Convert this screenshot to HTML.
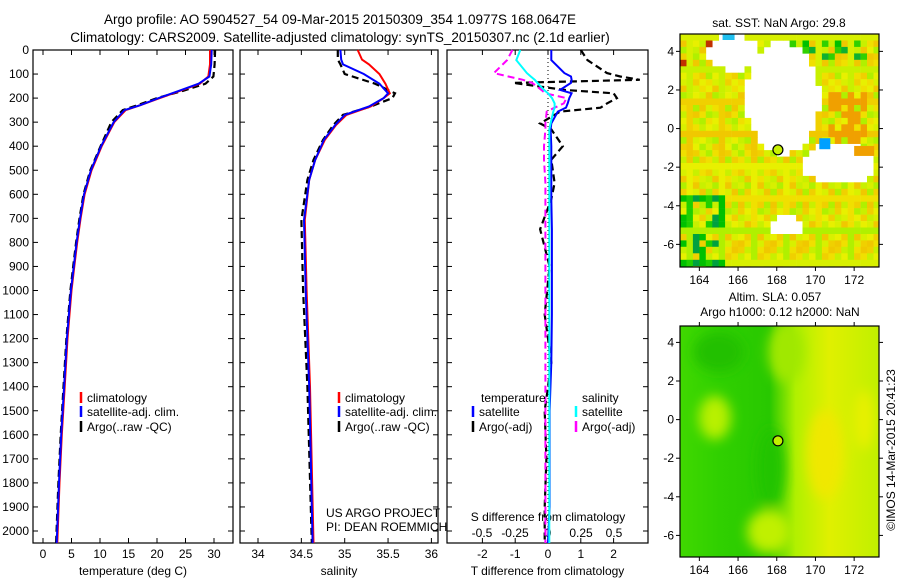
<!DOCTYPE html>
<html><head><meta charset="utf-8"><style>
body{margin:0;background:#fff;font-family:"Liberation Sans",sans-serif}
svg text{font-family:"Liberation Sans",sans-serif;fill:#000}
</style></head><body>
<svg id="c" width="900" height="580" xmlns="http://www.w3.org/2000/svg">
<text x="340" y="24" font-size="13.5" text-anchor="middle">Argo profile: AO 5904527_54 09-Mar-2015 20150309_354 1.0977S 168.0647E</text>
<text x="340" y="42" font-size="13.5" text-anchor="middle">Climatology: CARS2009. Satellite-adjusted climatology: synTS_20150307.nc (2.1d earlier)</text>
<g id="maps"></g>
<g id="plots"></g>
</svg>
<script>
// ---- data ----
const depthTicks=[0,100,200,300,400,500,600,700,800,900,1000,1100,1200,1300,1400,1500,1600,1700,1800,1900,2000];
const tTicks=[0,5,10,15,20,25,30];
const sTicks=[34,34.5,35,35.5,36];
const dTTicks=[-2,-1,0,1,2];
const dSTicks=[-0.5,-0.25,0,0.25,0.5];
const dSLabels=["-0.5","-0.25","0","0.25","0.5"];
const tDepth=[0,60,110,140,170,200,230,250,300,400,500,600,700,800,900,1000,1200,1400,1600,1800,2050];
const tClim=[29.3,29.3,29.0,27.5,24,20.5,17,14.5,12.5,10.3,8.5,7.3,6.6,6.0,5.5,5.0,4.3,3.8,3.3,2.9,2.5];
const tSat=[29.6,29.5,29.2,27.3,23.8,20.3,17,14.3,12.4,10.2,8.4,7.2,6.5,5.9,5.4,4.9,4.2,3.7,3.2,2.8,2.4];
const tArgo=[30.2,30.1,29.9,28.5,24.5,20,16.5,14,12,10.1,8.3,7.1,6.4,5.8,5.3,4.8,4.1,3.6,3.1,2.7,2.3];
const sDepth=[0,40,60,100,140,180,200,235,270,312,374,457,540,707,1000,1400,2050];
const sClim=[35.15,35.2,35.28,35.4,35.47,35.52,35.45,35.3,35.02,34.9,34.77,34.66,34.59,34.54,34.56,34.6,34.64];
const sSat=[34.95,34.96,34.98,35.22,35.4,35.5,35.45,35.28,35.0,34.89,34.76,34.66,34.59,34.53,34.55,34.59,34.63];
const sArgo=[34.92,34.92,34.95,35.0,35.35,35.58,35.55,35.3,34.98,34.87,34.75,34.64,34.57,34.5,34.52,34.57,34.62];
const dDepth=[0,42,96,110,124,137,166,180,200,222,240,256,305,330,400,456,553,620,745,900,1100,1300,1500,1700,1900,2050];
const dTSat=[0.1,0.1,0.5,0.7,0.72,0.7,0.37,0.72,0.65,0.6,0.55,0.3,0.1,0.08,0.1,0.1,0.1,0.1,0.12,0.12,0.12,0.1,0.05,0.05,0.05,0.0];
const dTArgo=[1.0,1.2,1.8,2.2,2.8,-1.06,0.5,2.0,2.1,1.8,1.6,0.37,-0.24,0.1,0.45,0.1,0.2,0.1,-0.24,0.05,-0.1,0.1,-0.1,-0.05,-0.1,-0.1];
const dSSat=[-0.21,-0.24,-0.16,-0.13,-0.1,-0.08,-0.03,0,0.03,0.05,0.05,0.04,0.02,0.01,0.01,0.01,0.01,0.01,0.01,0.01,0.01,0.01,0.01,0.01,0.01,0.01];
const dSArgo=[-0.27,-0.31,-0.41,-0.3,-0.19,-0.12,-0.05,-0.02,0.14,0.12,0.05,-0.01,-0.02,-0.02,-0.03,-0.03,-0.02,-0.02,-0.02,-0.02,-0.02,-0.02,-0.02,-0.02,-0.02,-0.02];
const lonTicks=[164,166,168,170,172];
const latTicks=[4,2,0,-2,-4,-6];
const argoLon=168.06, argoLat=-1.1;

const NS="http://www.w3.org/2000/svg";
const P=document.getElementById('plots'), M=document.getElementById('maps');
function el(t,a,p){const e=document.createElementNS(NS,t);for(const k in a)e.setAttribute(k,a[k]);(p||P).appendChild(e);return e;}
function txt(x,y,s,sz,anc,p){const e=el('text',{x:x,y:y,'font-size':sz||12,'text-anchor':anc||'middle'},p);e.textContent=s;return e;}
const top0=50,bot=543;
const yD=d=>top0+d*0.2405;

function panel(name,x0,x1,xf,ticks,labels,xlabel,showDepth){
  const g=el('g',{});
  
  
  const r=el('rect',{x:x0,y:top0,width:x1-x0,height:bot-top0,fill:'#fff',stroke:'#000','stroke-width':1.2},g);
  
  
  ticks.forEach((t,i)=>{const x=xf(t);
    el('line',{x1:x,x2:x,y1:bot,y2:bot-5,stroke:'#000'},g);
    el('line',{x1:x,x2:x,y1:top0,y2:top0+5,stroke:'#000'},g);
    const l=txt(x,bot+15,labels[i],12,'middle',g);
    
    });
  depthTicks.forEach(d=>{const y=yD(d);
    el('line',{x1:x0,x2:x0+5,y1:y,y2:y,stroke:'#000'},g);
    el('line',{x1:x1,x2:x1-5,y1:y,y2:y,stroke:'#000'},g);
    if(showDepth){const l=txt(x0-4,y+4,String(d),12,'end',g);
      
      }});
  const xl=txt((x0+x1)/2,bot+32,xlabel,12,'middle',g);
  
  
  return g;
}
function line(g,depths,vals,xf,col,dash,w,name){
  const pts=depths.map((d,i)=>xf(vals[i]).toFixed(1)+','+yD(d).toFixed(1)).join(' ');
  const e=el('polyline',{points:pts,fill:'none',stroke:col,'stroke-width':w||2,'stroke-dasharray':dash||'none'},g);
  
  
}
function legItem(g,x,y,col,label){
  el('line',{x1:x,x2:x,y1:y-10,y2:y+1,stroke:col,'stroke-width':2.5},g);
  const t=txt(x+6,y,label,12,'start',g);
  
  
}
// panel 1
const xT=t=>43+t*5.7;
const g1=panel('temperature-panel',33,233,xT,tTicks,tTicks.map(String),'temperature (deg C)',true);
line(g1,tDepth,tArgo,xT,'#000','7,4',2.2,'argo-temperature-line');
line(g1,tDepth,tClim,xT,'#f00','none',2,'climatology-temperature-line');
line(g1,tDepth,tSat,xT,'#00f','none',2,'satellite-temperature-line');
legItem(g1,81,402,'#f00','climatology');legItem(g1,81,416,'#00f','satellite-adj. clim.');legItem(g1,81,431,'#000','Argo(..raw -QC)');
// panel 2
const xS=s=>258+(s-34)*86.7;
const g2=panel('salinity-panel',240,438,xS,sTicks,sTicks.map(String),'salinity',false);
line(g2,sDepth,sArgo,xS,'#000','7,4',2.2,'argo-salinity-line');
line(g2,sDepth,sClim,xS,'#f00','none',2,'climatology-salinity-line');
line(g2,sDepth,sSat,xS,'#00f','none',2,'satellite-salinity-line');
legItem(g2,339,402,'#f00','climatology');legItem(g2,339,416,'#00f','satellite-adj. clim.');legItem(g2,339,431,'#000','Argo(..raw -QC)');
txt(326,517,'US ARGO PROJECT',12,'start',g2);txt(326,531,'PI: DEAN ROEMMICH',12,'start',g2);
// panel 3
const xdT=t=>548+t*32.8, xdS=s=>548+s*132;
const g3=panel('difference-panel',447,648,xdT,dTTicks,dTTicks.map(String),'T difference from climatology',false);
dSTicks.forEach((s,i)=>{const l=txt(xdS(s),537,dSLabels[i],12,'middle',g3);});
txt(548,521,'S difference from climatology',12,'middle',g3);
el('line',{x1:548,x2:548,y1:top0,y2:bot,stroke:'#000','stroke-dasharray':'1,3'},g3);
line(g3,dDepth,dTArgo,xdT,'#000','7,4',2.2,'argo-t-diff-line');
line(g3,dDepth,dSArgo,xdS,'#f0f','7,4',2,'argo-s-diff-line');
line(g3,dDepth,dTSat,xdT,'#00f','none',2,'satellite-t-diff-line');
line(g3,dDepth,dSSat,xdS,'#0ff','none',2,'satellite-s-diff-line');
const tl=txt(481,402,'temperature',12,'start',g3);const sl=txt(582,402,'salinity',12,'start',g3);
legItem(g3,473,416,'#00f','satellite');legItem(g3,473,431,'#000','Argo(-adj)');
legItem(g3,576,416,'#0ff','satellite');legItem(g3,576,431,'#f0f','Argo(-adj)');

// ---- maps ----
function mapFrame(name,y0,y1,latTop){
  const g=el('g',{},M);
  
  
  const lx=l=>680+(l-163)*19.35, ly=l=>y0+(latTop-l)*19.3;
  return {g,lx,ly};
}
// top SST map
(function(){
  const y0=34,y1=267,latTop=4.9;
  const {g,lx,ly}=mapFrame('sst-map',y0,y1,latTop);
  const cp=el('clipPath',{id:'cp1'},g);el('rect',{x:680,y:y0,width:199,height:y1-y0},cp);
  const cg=el('g',{'clip-path':'url(#cp1)'},g);
  const pal=['#d8f000','#e8f000','#c8f000','#f0e000','#f0d000','#b0f000','#f0c800'];
  const cs=6.45;
  for(let i=0;i<31;i++)for(let j=0;j<37;j++){
    const lon=163+i*0.333+0.17, lat=latTop-j*0.333-0.17;
    const gap1=((lon-168.3)/1.9)**2+((lat-1.6)/2.9)**2<1;
    const gap2=((lon-171.2)/1.9)**2+((lat+1.8)/1.1)**2<1;
    const gap3=((lon-165.7)/1.4)**2+((lat-3.9)/0.9)**2<1;
    const gap4=((lon-168.4)/0.9)**2+((lat+5.0)/0.5)**2<1;
    if(gap1||gap2||gap3||gap4)continue;
    let h=(i*7+j*13+(i*j)%5)%7, c=pal[h];
    if(lat>3.7&&lon>167.3&&lon<172.5&&h%2)c=['#00c000','#30d000','#10b030'][h%3];
    if(lon<165.5&&lat<-3.5&&h%3==0)c=['#00c000','#20d000','#00a040'][i%3];
    if(lon>170.5&&lon<172.8&&lat<1.8&&lat>-0.7&&h%2==0)c='#f0a000';
    if(lon<165&&lat>3&&h==3)c='#c03000';
    el('rect',{x:(680+i*cs).toFixed(1),y:(y0+j*cs).toFixed(1),width:cs+0.3,height:cs+0.3,fill:c},cg);
  }
  el('rect',{x:lx(170.2),y:ly(-0.5),width:11,height:11,fill:'#00a0ff'},cg);
  el('rect',{x:lx(165.2),y:ly(4.9),width:12,height:6,fill:'#20c0f0'},cg);
  el('rect',{x:lx(172),y:ly(-0.9),width:20,height:10,fill:'#f0a000'},cg);
  el('rect',{x:680,y:y0,width:199,height:y1-y0,fill:'none',stroke:'#000','stroke-width':1.2},g);
  const c=el('circle',{cx:lx(argoLon),cy:ly(argoLat),r:5,fill:'#c8f000',stroke:'#000','stroke-width':1.2},g);
  
  
  lonTicks.forEach(l=>{el('line',{x1:lx(l),x2:lx(l),y1:y1,y2:y1+4,stroke:'#000'},g);txt(lx(l),y1+17,String(l),12,'middle',g);});
  latTicks.forEach(l=>{el('line',{x1:676,x2:680,y1:ly(l),y2:ly(l),stroke:'#000'},g);el('line',{x1:879,x2:883,y1:ly(l),y2:ly(l),stroke:'#000'},g);txt(674,ly(l)+4,String(l),12,'end',g);});
  const t=txt(779,27,'sat. SST: NaN Argo: 29.8',12,'middle',g);
  
  
})();
// bottom SLA map
(function(){
  const y0=326,y1=557,latTop=4.85;
  const {g,lx,ly}=mapFrame('sla-map',y0,y1,latTop);
  const defs=el('defs',{},g);
  const lg=el('linearGradient',{id:'slag',x1:0,x2:1,y1:0,y2:0},defs);
  [[0,'#40d800'],[0.2,'#30d000'],[0.45,'#28c800'],[0.58,'#b0f000'],[0.75,'#e0f000'],[1,'#c0f000']].forEach(s=>el('stop',{offset:s[0],'stop-color':s[1]},lg));
  const f=el('filter',{id:'bl'},defs);el('feGaussianBlur',{stdDeviation:6},f);
  const cp=el('clipPath',{id:'cp2'},defs);el('rect',{x:680,y:y0,width:199,height:y1-y0},cp);
  const cg=el('g',{'clip-path':'url(#cp2)'},g);
  el('rect',{x:680,y:y0,width:199,height:y1-y0,fill:'url(#slag)'},cg);
  const bg=el('g',{filter:'url(#bl)'},cg);
  el('ellipse',{cx:lx(164.8),cy:ly(0.1),rx:16,ry:22,fill:'#b8f000'},bg);
  el('ellipse',{cx:lx(167.6),cy:ly(-5.8),rx:22,ry:22,fill:'#c0f000'},bg);
  el('ellipse',{cx:lx(165),cy:ly(3.5),rx:25,ry:20,fill:'#20c000'},bg);
  el('ellipse',{cx:lx(167.7),cy:ly(-2.5),rx:14,ry:40,fill:'#20c400'},bg);
  el('ellipse',{cx:lx(170.5),cy:ly(-1.8),rx:18,ry:45,fill:'#f0e800'},bg);
  el('ellipse',{cx:lx(168.5),cy:ly(3.5),rx:18,ry:30,fill:'#a0e800'},bg);
  el('ellipse',{cx:lx(172.5),cy:ly(0),rx:10,ry:30,fill:'#e8f000'},bg);
  el('rect',{x:680,y:y0,width:199,height:y1-y0,fill:'none',stroke:'#000','stroke-width':1.2},g);
  const c=el('circle',{cx:lx(argoLon),cy:ly(argoLat),r:5,fill:'#c0f000',stroke:'#000','stroke-width':1.2},g);
  
  
  lonTicks.forEach(l=>{el('line',{x1:lx(l),x2:lx(l),y1:y1,y2:y1+4,stroke:'#000'},g);el('line',{x1:lx(l),x2:lx(l),y1:y0,y2:y0-4,stroke:'#000'},g);txt(lx(l),y1+17,String(l),12,'middle',g);});
  latTicks.forEach(l=>{el('line',{x1:676,x2:680,y1:ly(l),y2:ly(l),stroke:'#000'},g);el('line',{x1:879,x2:883,y1:ly(l),y2:ly(l),stroke:'#000'},g);txt(674,ly(l)+4,String(l),12,'end',g);});
  const t1=txt(775,301,'Altim. SLA: 0.057',12,'middle',g);
  
  
  txt(780,316,'Argo h1000: 0.12 h2000: NaN',12,'middle',g);
  const cr=txt(0,0,'©IMOS 14-Mar-2015 20:41:23',12,'middle',g);
  cr.setAttribute('transform','translate(895,450) rotate(-90)');
  
  
})();
</script>
</body></html>
